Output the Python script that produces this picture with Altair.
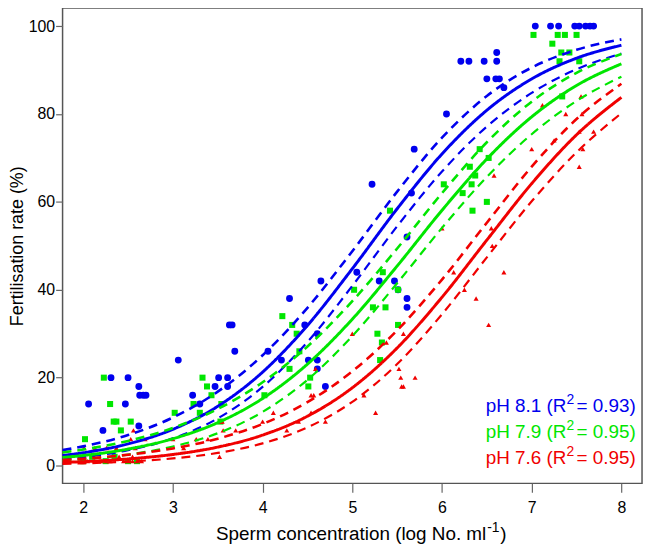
import altair as alt
import pandas as pd

# ---------------- data ----------------
groups = ["pH 8.1", "pH 7.9", "pH 7.6"]
colors = ["#0000ee", "#00e600", "#f00000"]
shapes = ["circle", "square", "triangle-up"]
sizes = [48, 26, 40]

blue_x = [2.06, 2.22, 2.31, 2.47, 2.50, 2.62, 2.63, 2.67, 2.70, 2.62, 3.06, 3.22, 3.30, 3.47, 3.51,
          3.61, 3.61, 3.63, 3.66, 3.69, 4.06, 4.21, 4.30, 4.47, 4.51, 4.61, 4.61, 4.61, 4.65, 4.70,
          5.05, 5.22, 5.30, 5.47, 5.51, 5.61, 5.61, 5.61, 5.66, 5.69, 6.05, 6.21, 6.30, 6.47, 6.61,
          6.61, 6.50, 6.60, 6.64, 6.69, 7.04, 7.21, 7.30, 7.48, 7.53, 7.60, 7.65, 7.69]
blue_y = [14, 8, 20, 14, 20, 18, 16, 16, 16, 9, 24, 16, 14, 18, 20,
          20, 18, 32, 32, 26, 26, 24, 38, 32, 24, 30, 24, 22, 42, 18,
          44, 64, 42, 42, 40, 38, 36, 52, 62, 72, 80, 92, 92, 92, 94,
          92, 88, 88, 88, 86, 100, 100, 100, 100, 100, 100, 100, 100]

green_x = [2.02, 2.23, 2.30, 2.34, 2.37, 2.42, 2.53, 2.00, 2.10, 2.25, 2.35, 2.50, 2.60,
           3.02, 3.23, 3.30, 3.33, 3.38, 3.43, 3.54, 3.53, 4.02, 4.22, 4.30, 4.33, 4.38, 4.41,
           4.51, 4.53, 5.02, 5.23, 5.28, 5.33, 5.31, 5.34, 5.37, 5.42, 5.51, 5.51, 6.02, 6.23,
           6.31, 6.33, 6.34, 6.37, 6.42, 6.50, 6.52, 7.02, 7.23, 7.29, 7.31, 7.33, 7.34, 7.37,
           7.42, 7.50, 7.53]
green_y = [6, 20, 14, 10, 10, 8, 10, 1, 2, 1, 2, 1, 1,
           12, 14, 12, 20, 18, 16, 14, 10, 16, 34, 22, 32, 30, 26,
           18, 20, 40, 36, 30, 28, 24, 44, 36, 58, 40, 32, 64, 62,
           68, 64, 58, 66, 72, 60, 70, 98, 96, 98, 92, 94, 84, 98,
           94, 98, 92]

red_x = [1.98, 2.05, 2.20, 2.25, 2.30, 2.45, 2.50, 2.55, 2.60, 2.65,
         2.01, 2.13, 2.26, 2.37, 2.40, 2.55, 2.53, 2.56, 2.58, 2.69, 3.00, 3.12, 3.26, 3.39,
         3.52, 3.53, 3.55, 3.56, 3.70, 4.00, 4.12, 4.27, 4.40, 4.54, 4.54, 4.57, 4.59, 4.70,
         5.00, 5.13, 5.26, 5.38, 5.52, 5.54, 5.55, 5.57, 5.57, 5.70, 6.00, 6.13, 6.25, 6.38,
         6.52, 6.55, 6.56, 6.58, 6.69, 7.00, 7.12, 7.25, 7.38, 7.53, 7.53, 7.55, 7.56, 7.57,
         7.69]
red_y = [1, 1, 1, 1, 1, 1, 1, 1, 1, 1,
         4, 4, 4, 4, 2, 2, 6, 8, 4, 6, 6, 4, 6, 6,
         2, 10, 10, 8, 8, 10, 12, 8, 10, 12, 16, 16, 22, 10,
         30, 16, 12, 28, 22, 20, 18, 18, 30, 20, 54, 44, 40, 38,
         32, 54, 50, 66, 44, 72, 82, 74, 80, 68, 76, 84, 80, 72,
         76]

# fitted curves and their confidence limits, read at these x positions
curve_x = [1.77, 2.0, 2.5, 3.0, 3.5, 4.0, 4.5, 5.0, 5.5, 6.0, 6.5, 7.0, 7.5, 8.0]
blue_fit = [2.27, 2.91, 4.93, 8.25, 13.48, 21.27, 31.89, 44.79, 58.44, 70.91, 80.86, 87.98, 92.70, 95.65]
blue_up = [3.51, 4.36, 6.95, 10.93, 16.81, 25.09, 35.89, 48.78, 62.33, 74.61, 84.10, 90.57, 94.61, 96.98]
blue_lo = [1.46, 1.93, 3.48, 6.18, 10.73, 17.89, 28.13, 40.88, 54.45, 66.91, 77.14, 84.80, 90.18, 93.77]
green_fit = [1.82, 2.29, 3.75, 6.10, 9.76, 15.26, 23.08, 33.31, 45.41, 58.09, 69.77, 79.36, 86.49, 91.42]
green_up = [2.98, 3.64, 5.61, 8.56, 12.87, 18.94, 27.09, 37.40, 49.39, 61.99, 73.57, 82.81, 89.37, 93.65]
green_lo = [1.11, 1.43, 2.50, 4.32, 7.35, 12.21, 19.50, 29.46, 41.49, 54.08, 65.68, 75.40, 82.97, 88.50]
red_fit = [0.70, 0.89, 1.50, 2.52, 4.20, 6.93, 11.23, 17.70, 26.76, 38.30, 51.32, 64.17, 75.27, 83.79]
red_up = [1.25, 1.55, 2.46, 3.89, 6.11, 9.47, 14.42, 21.44, 30.77, 42.32, 55.26, 68.02, 78.86, 86.87]
red_lo = [0.39, 0.50, 0.91, 1.62, 2.87, 5.04, 8.68, 14.49, 23.09, 34.42, 47.37, 60.13, 71.28, 80.19]

legend_names = ["pH 8.1 (R", "pH 7.9 (R", "pH 7.6 (R"]
legend_sup = ["2", "2", "2"]
legend_r2 = ["= 0.93)", "= 0.95)", "= 0.95)"]
legend_y = [12.2, 6.3, 0.4]

x_title_parts = ["Sperm concentration (log No. ml", "-1", ")"]
y_title = "Fertilisation rate (%)"
x_ticks = [2, 3, 4, 5, 6, 7, 8]
y_ticks = [0, 20, 40, 60, 80, 100]

# ---------------- tables ----------------
pts = pd.concat([
    pd.DataFrame({"x": blue_x, "y": blue_y, "g": groups[0]}),
    pd.DataFrame({"x": green_x, "y": green_y, "g": groups[1]}),
    pd.DataFrame({"x": red_x, "y": red_y, "g": groups[2]}),
])

curve_rows = []
for g, series in zip(groups, [(blue_fit, blue_up, blue_lo), (green_fit, green_up, green_lo), (red_fit, red_up, red_lo)]):
    for kind, vals in zip(["fit", "upper", "lower"], series):
        for xv, yv in zip(curve_x, vals):
            curve_rows.append({"x": xv, "y": yv, "g": g, "kind": kind, "series": g + kind})
curves = pd.DataFrame(curve_rows)

leg = pd.DataFrame({"name": legend_names, "sup": legend_sup, "r2": legend_r2, "g": groups,
                    "x": [8.16] * 3, "y": legend_y})

FONT = "Liberation Sans"
xs = alt.Scale(domain=[1.77, 8.23], nice=False, zero=False)
ys = alt.Scale(domain=[-4.06, 104.1], nice=False, zero=False)
cs = alt.Scale(domain=groups, range=colors)

xax = alt.Axis(values=x_ticks, title=None, format="d", tickSize=9, labelPadding=7)
yax = alt.Axis(values=y_ticks, title=y_title, format="d", tickSize=7, labelPadding=1,
               titlePadding=2, titleFontSize=18)

points = alt.Chart(pts).mark_point(filled=True, opacity=1).encode(
    x=alt.X("x:Q", scale=xs, axis=xax),
    y=alt.Y("y:Q", scale=ys, axis=yax),
    color=alt.Color("g:N", scale=cs, legend=None),
    shape=alt.Shape("g:N", scale=alt.Scale(domain=groups, range=shapes), legend=None),
    size=alt.Size("g:N", scale=alt.Scale(domain=groups, range=sizes), legend=None),
)

lines = alt.Chart(curves).mark_line(interpolate="monotone").encode(
    x=alt.X("x:Q", scale=xs),
    y=alt.Y("y:Q", scale=ys),
    color=alt.Color("g:N", scale=cs, legend=None),
    strokeDash=alt.StrokeDash("kind:N", scale=alt.Scale(domain=["fit", "upper", "lower"],
                                                       range=[[1, 0], [9, 6], [9, 6]]), legend=None),
    strokeWidth=alt.StrokeWidth("kind:N", scale=alt.Scale(domain=["fit", "upper", "lower"],
                                                         range=[3, 2.2, 2.2]), legend=None),
    detail="series:N",
)

leg_base = alt.Chart(leg).encode(
    x=alt.X("x:Q", scale=xs),
    y=alt.Y("y:Q", scale=ys),
    color=alt.Color("g:N", scale=cs, legend=None),
)
leg_name = leg_base.mark_text(align="right", baseline="alphabetic", font=FONT, fontSize=19, dx=-70).encode(text="name:N")
leg_sup = leg_base.mark_text(align="right", baseline="alphabetic", font=FONT, fontSize=14, dx=-62, dy=-8).encode(text="sup:N")
leg_r2 = leg_base.mark_text(align="right", baseline="alphabetic", font=FONT, fontSize=19).encode(text="r2:N")

# x-axis title with a raised exponent, placed below the axis
xt = pd.DataFrame({"t": x_title_parts})
xt_main = alt.Chart(xt).transform_filter(alt.datum.t == x_title_parts[0]).mark_text(
    align="right", baseline="alphabetic", font=FONT, fontSize=19, color="black"
).encode(text="t:N", x=alt.value(427), y=alt.value(536))
xt_sup = alt.Chart(xt).transform_filter(alt.datum.t == x_title_parts[1]).mark_text(
    align="left", baseline="alphabetic", font=FONT, fontSize=14, color="black"
).encode(text="t:N", x=alt.value(428), y=alt.value(528))
xt_end = alt.Chart(xt).transform_filter(alt.datum.t == x_title_parts[2]).mark_text(
    align="left", baseline="alphabetic", font=FONT, fontSize=19, color="black"
).encode(text="t:N", x=alt.value(441), y=alt.value(536))

chart = alt.layer(points, lines, leg_name, leg_sup, leg_r2, xt_main, xt_sup, xt_end).properties(
    width=584, height=479,
    autosize=alt.AutoSizeParams(type="none"),
    padding={"left": 55, "top": -2, "right": 4, "bottom": 60},
).configure_view(
    stroke="#555555", strokeWidth=1.5
).configure_axis(
    domain=False, grid=False, tickColor="#666666", tickWidth=1.2,
    labelFont=FONT, labelFontSize=16, labelColor="black",
    titleFont=FONT, titleFontWeight="normal", titleColor="black",
)

chart.save("out.html", embed_options={"renderer": "svg", "actions": False})
